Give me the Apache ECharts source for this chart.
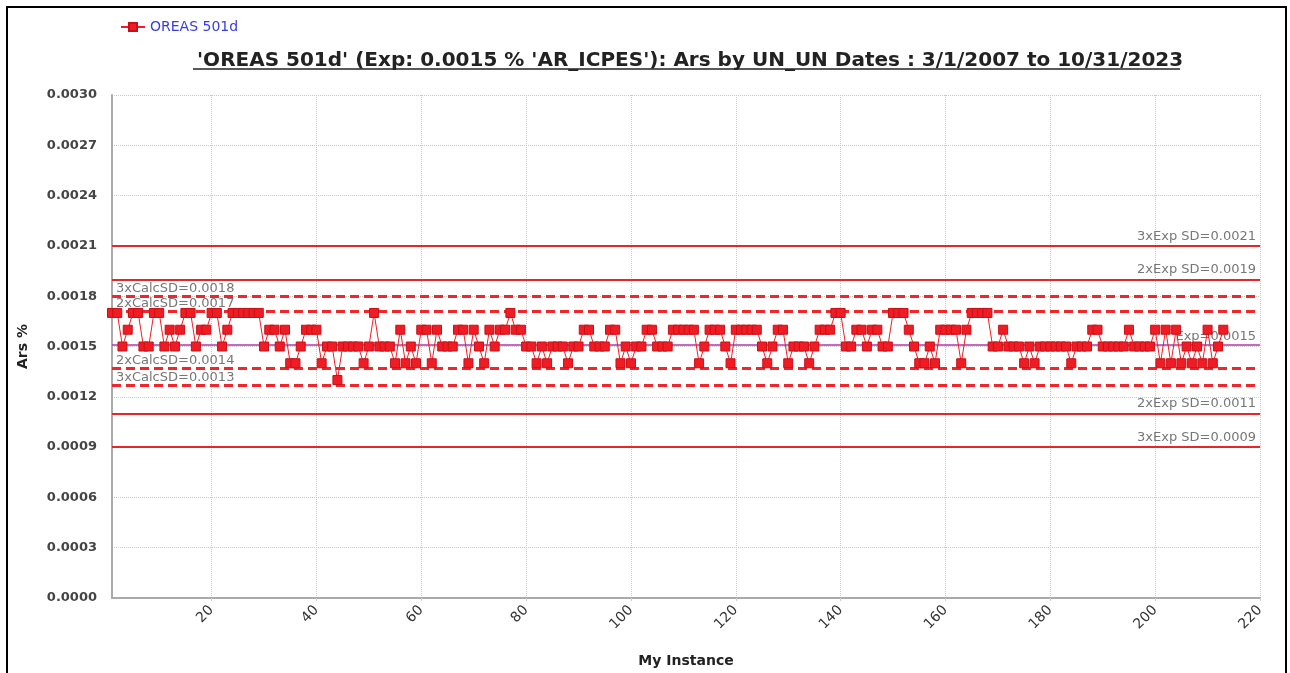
<!DOCTYPE html>
<html>
<head>
<meta charset="utf-8">
<script src="https://cdn.jsdelivr.net/npm/echarts@6/dist/echarts.min.js"></script>
<style>
  html, body { margin: 0; padding: 0; background: #fff; }
  #chart { width: 1290px; height: 673px; }
</style>
</head>
<body>
<div id="chart"></div>
<script>
// instance numbers on the x axis, values in Ars %
var arsValues = [
  0.0017, 0.0017, 0.0015, 0.0016, 0.0017, 0.0017, 0.0015, 0.0015, 0.0017, 0.0017,
  0.0015, 0.0016, 0.0015, 0.0016, 0.0017, 0.0017, 0.0015, 0.0016, 0.0016, 0.0017,
  0.0017, 0.0015, 0.0016, 0.0017, 0.0017, 0.0017, 0.0017, 0.0017, 0.0017, 0.0015,
  0.0016, 0.0016, 0.0015, 0.0016, 0.0014, 0.0014, 0.0015, 0.0016, 0.0016, 0.0016,
  0.0014, 0.0015, 0.0015, 0.0013, 0.0015, 0.0015, 0.0015, 0.0015, 0.0014, 0.0015,
  0.0017, 0.0015, 0.0015, 0.0015, 0.0014, 0.0016, 0.0014, 0.0015, 0.0014, 0.0016,
  0.0016, 0.0014, 0.0016, 0.0015, 0.0015, 0.0015, 0.0016, 0.0016, 0.0014, 0.0016,
  0.0015, 0.0014, 0.0016, 0.0015, 0.0016, 0.0016, 0.0017, 0.0016, 0.0016, 0.0015,
  0.0015, 0.0014, 0.0015, 0.0014, 0.0015, 0.0015, 0.0015, 0.0014, 0.0015, 0.0015,
  0.0016, 0.0016, 0.0015, 0.0015, 0.0015, 0.0016, 0.0016, 0.0014, 0.0015, 0.0014,
  0.0015, 0.0015, 0.0016, 0.0016, 0.0015, 0.0015, 0.0015, 0.0016, 0.0016, 0.0016,
  0.0016, 0.0016, 0.0014, 0.0015, 0.0016, 0.0016, 0.0016, 0.0015, 0.0014, 0.0016,
  0.0016, 0.0016, 0.0016, 0.0016, 0.0015, 0.0014, 0.0015, 0.0016, 0.0016, 0.0014,
  0.0015, 0.0015, 0.0015, 0.0014, 0.0015, 0.0016, 0.0016, 0.0016, 0.0017, 0.0017,
  0.0015, 0.0015, 0.0016, 0.0016, 0.0015, 0.0016, 0.0016, 0.0015, 0.0015, 0.0017,
  0.0017, 0.0017, 0.0016, 0.0015, 0.0014, 0.0014, 0.0015, 0.0014, 0.0016, 0.0016,
  0.0016, 0.0016, 0.0014, 0.0016, 0.0017, 0.0017, 0.0017, 0.0017, 0.0015, 0.0015,
  0.0016, 0.0015, 0.0015, 0.0015, 0.0014, 0.0015, 0.0014, 0.0015, 0.0015, 0.0015,
  0.0015, 0.0015, 0.0015, 0.0014, 0.0015, 0.0015, 0.0015, 0.0016, 0.0016, 0.0015,
  0.0015, 0.0015, 0.0015, 0.0015, 0.0016, 0.0015, 0.0015, 0.0015, 0.0015, 0.0016,
  0.0014, 0.0016, 0.0014, 0.0016, 0.0014, 0.0015, 0.0014, 0.0015, 0.0014, 0.0016,
  0.0014, 0.0015, 0.0016
]
var xTicks = [20, 40, 60, 80, 100, 120, 140, 160, 180, 200, 220]
var xMin = 1
var xMax = 220

// control lines
var expLines = [
  { name: '3xExp SD=0.0021', value: 0.0021 },
  { name: '2xExp SD=0.0019', value: 0.0019 },
  { name: '2xExp SD=0.0011', value: 0.0011 },
  { name: '3xExp SD=0.0009', value: 0.0009 }
]
var calcLines = [
  { name: '3xCalcSD=0.0018', value: 0.0018 },
  { name: '2xCalcSD=0.0017', value: 0.00171 },
  { name: '2xCalcSD=0.0014', value: 0.00137 },
  { name: '3xCalcSD=0.0013', value: 0.00127 }
]
var expValue = { name: 'Exp=0.0015', value: 0.00151 }

var chart = echarts.init(document.getElementById('chart'))

var points = arsValues.map(function (v, i) {
  return [i + 1, v]
})

// horizontal line across the whole x range
function hLine(v, lineStyle, label) {
  return [
    { coord: [xMin, v], lineStyle: lineStyle, label: label },
    { coord: [xMax, v] }
  ]
}

var markData = []
expLines.forEach(function (l) {
  markData.push(hLine(l.value,
    { color: '#e8262a', type: 'solid', width: 2 },
    { formatter: l.name, position: 'insideEndTop', distance: [4, 3] }))
})
calcLines.forEach(function (l) {
  markData.push(hLine(l.value,
    { color: '#f0262a', type: [9, 5], width: 3 },
    { formatter: l.name, position: 'insideStartTop', distance: [4, 1] }))
})
markData.push(hLine(expValue.value,
  { color: '#b03aa8', type: 'solid', width: 1.5 },
  { formatter: expValue.name, position: 'insideEndTop', distance: [4, 2] }))

var option = {
  animation: false,
  textStyle: { fontFamily: 'DejaVu Sans' },
  legend: {
    left: 115,
    top: 15,
    itemWidth: 24,
    itemHeight: 10,
    itemGap: 4,
    textStyle: { color: '#3b3be0', fontSize: 14, fontFamily: 'DejaVu Sans' },
    data: ['OREAS 501d']
  },
  title: {
    text: "'OREAS 501d' (Exp: 0.0015 % 'AR_ICPES'): Ars by UN_UN Dates : 3/1/2007 to 10/31/2023",
    left: 192,
    top: 46,
    textStyle: { fontSize: 20, fontWeight: 'bold', color: '#222', fontFamily: 'DejaVu Sans' }
  },
  graphic: [
    {
      type: 'rect',
      shape: { x: 7, y: 7, width: 1279, height: 690 },
      style: { fill: 'none', stroke: '#000', lineWidth: 2 },
      silent: true
    },
    {
      type: 'line',
      shape: { x1: 193, y1: 69, x2: 1180, y2: 69 },
      style: { stroke: '#222', lineWidth: 1.5 },
      silent: true
    }
  ],
  grid: { left: 112, right: 30, top: 95, bottom: 75 },
  xAxis: {
    type: 'value',
    min: xMin,
    max: xMax,
    name: 'My Instance',
    nameLocation: 'middle',
    nameGap: 56,
    nameTextStyle: { fontWeight: 'bold', fontSize: 14, color: '#222' },
    axisLine: { show: true, lineStyle: { color: '#aaa', width: 2 } },
    axisTick: { show: true, customValues: xTicks, length: 3, lineStyle: { color: '#ccc' } },
    axisLabel: { customValues: xTicks, rotate: 45, color: '#333', fontSize: 14, margin: 10 },
    splitLine: { show: true, lineStyle: { color: '#c8c8c8', type: 'dotted' } }
  },
  yAxis: {
    type: 'value',
    min: 0,
    max: 0.003,
    interval: 0.0003,
    name: 'Ars %',
    nameLocation: 'middle',
    nameGap: 82,
    nameTextStyle: { fontWeight: 'bold', fontSize: 14, color: '#222' },
    axisLine: { show: true, lineStyle: { color: '#aaa', width: 2 } },
    axisTick: { show: false },
    axisLabel: {
      color: '#444',
      fontSize: 13,
      fontWeight: 'bold',
      margin: 15,
      formatter: function (v) { return v.toFixed(4) }
    },
    splitLine: { show: true, lineStyle: { color: '#c8c8c8', type: 'dotted' } }
  },
  series: [
    {
      name: 'OREAS 501d',
      type: 'line',
      data: points,
      symbol: 'rect',
      symbolSize: 9,
      itemStyle: { color: '#f01c24', borderColor: '#c8101a', borderWidth: 1 },
      lineStyle: { color: '#f01c24', width: 1 },
      z: 5,
      markLine: {
        silent: true,
        symbol: 'none',
        animation: false,
        label: { color: '#777', fontSize: 13, fontFamily: 'DejaVu Sans' },
        data: markData
      }
    }
  ]
}

chart.setOption(option)
</script>
</body>
</html>
